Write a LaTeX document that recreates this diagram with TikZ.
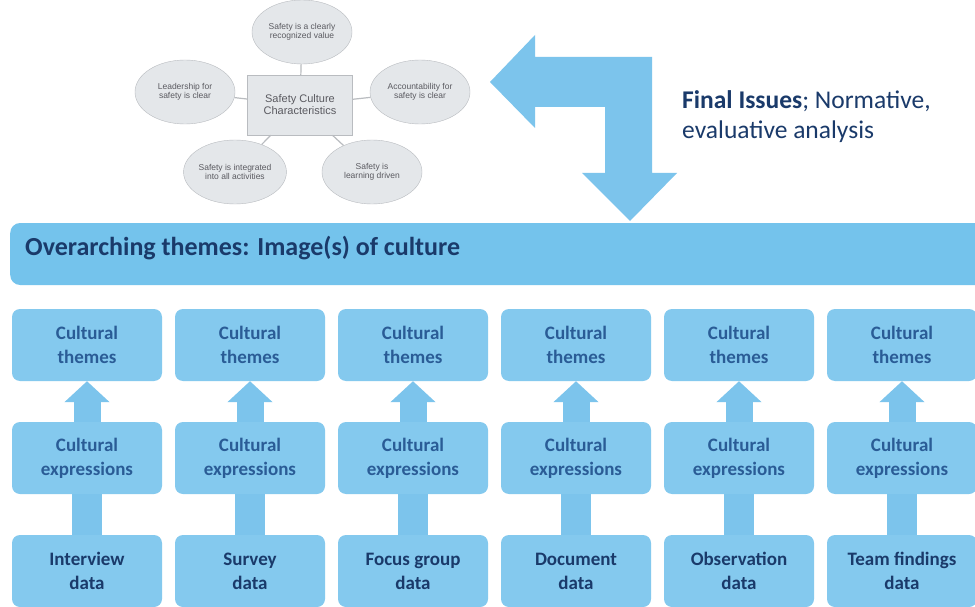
\documentclass[tikz,border=0pt]{standalone}
\usepackage{fontspec}
\setmainfont{Carlito}
\newfontfamily\ellfont{Liberation Sans}
\usetikzlibrary{arrows.meta,shapes.geometric}
\definecolor{boxfill}{RGB}{132,201,238}
\definecolor{bannerfill}{RGB}{116,195,236}
\definecolor{arrowfill}{RGB}{124,196,236}
\definecolor{themeblue}{RGB}{42,92,150}
\definecolor{navy}{RGB}{26,58,106}
\definecolor{ellgray}{RGB}{228,231,234}
\definecolor{ellline}{RGB}{185,188,192}
\definecolor{elltext}{RGB}{90,90,96}
\tikzset{
  cbox/.style={draw=none, fill=boxfill, rounded corners=8pt, minimum width=150pt,
    minimum height=72pt, align=center, inner sep=2pt,
    font=\bfseries\fontsize{19}{24}\selectfont, text=themeblue},
  databox/.style={cbox, text=navy},
  uparrow/.style={draw=arrowfill, line width=27pt, -{Triangle[width=44pt,length=21pt]}},
  upbar/.style={draw=arrowfill, line width=30pt},
  ell/.style={ellipse, draw=ellline, fill=ellgray, minimum width=100pt, minimum height=64pt,
    inner sep=0pt, align=center, font=\ellfont\fontsize{8.5}{9.5}\selectfont, text=elltext},
  charbox/.style={draw=ellline, fill=ellgray, minimum width=105pt, minimum height=60pt,
    align=center, font=\ellfont\fontsize{11}{12}\selectfont, text=elltext},
  conn/.style={draw=ellline, line width=1.2pt}
}
\begin{document}
\begin{tikzpicture}[x=1pt,y=-1pt]
\clip (0,0) rectangle (975,607);
\fill[white] (0,0) rectangle (975,607);

% top characteristics diagram
\node[charbox] (chr) at (300,105) {Safety Culture\\Characteristics};
\node[ell] (e1) at (302,32) {Safety is a clearly\\recognized value};
\node[ell] (e2) at (185,92) {Leadership for\\safety is clear};
\node[ell] (e3) at (420,92) {Accountability for\\safety is clear};
\node[ell] (e4) at (235,172) {Safety is integrated\\into all activities};
\node[ell] (e5) at (372,172) {Safety is\\learning driven};
\foreach \e in {e1,e2,e3,e4,e5} \draw[conn] (chr) -- (\e);

% bent arrow
\fill[arrowfill] (490,82) -- (535,35) -- (535,57) -- (652,57) -- (652,173) -- (677,173)
  -- (630,221) -- (582,173) -- (605,173) -- (605,107) -- (535,107) -- (535,128) -- cycle;

\node[anchor=north west, align=left, font=\fontsize{25.5}{30}\selectfont, text=navy, inner sep=0pt]
  (fin) at (682,90) {\textbf{Final Issues}; Normative,\\evaluative analysis};

% banner
\node[fill=bannerfill, rounded corners=10pt, minimum width=990pt, minimum height=62pt,
  anchor=west] (banner) at (10,254) {};
\node[anchor=west, font=\bfseries\fontsize{26}{30}\selectfont, text=navy, inner sep=0pt]
  (btext) at (25,248) {Overarching themes: Image(s) of culture};

% columns
\foreach \i/\x/\d in {1/87/{Interview\\data}, 2/250/{Survey\\data}, 3/413/{Focus group\\data},
  4/576/{Document\\data}, 5/739/{Observation\\data}, 6/902/{Team findings\\data}} {
  \node[cbox] (th\i) at (\x,345) {Cultural\\themes};
  \node[cbox] (ex\i) at (\x,458) {Cultural\\expressions};
  \node[databox] (da\i) at (\x,571) {\d};
}
\foreach \i in {1,...,6} {
  \draw[uparrow] (ex\i.north) -- (th\i.south);
  \draw[upbar] (da\i.north) -- (ex\i.south);
}
\end{tikzpicture}
\end{document}
